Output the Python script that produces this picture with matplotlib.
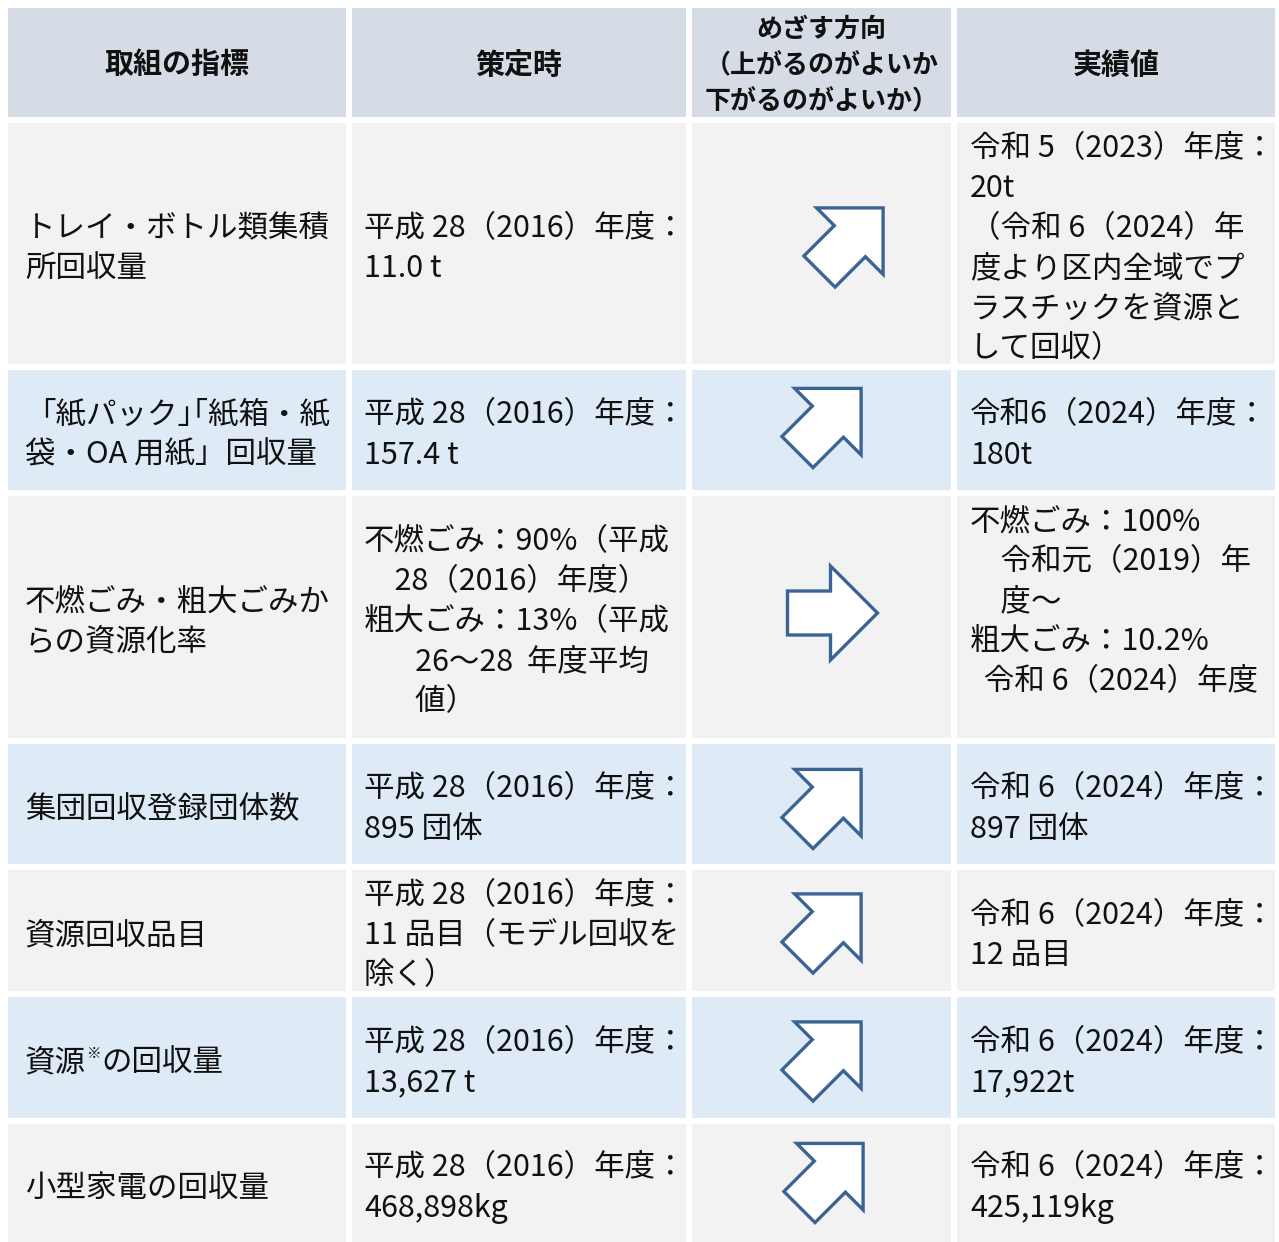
import matplotlib
matplotlib.use('Agg')
import matplotlib.pyplot as plt
import numpy as np
from matplotlib.patches import Rectangle, Polygon

plt.rcParams['font.family'] = ['Noto Sans CJK JP', 'DejaVu Sans']

# --- table content ---
headers = ["取組の指標", "策定時", "めざす方向\n（上がるのがよいか\n下がるのがよいか）", "実績値"]

indicators = [
    "トレイ・ボトル類集積\n所回収量",
    "「紙パック｣｢紙箱・紙\n袋・OA 用紙」回収量",
    "不燃ごみ・粗大ごみか\nらの資源化率",
    "集団回収登録団体数",
    "資源回収品目",
    "資源※の回収量",
    "小型家電の回収量",
]
baseline = [
    "平成 28（2016）年度：\n11.0 t",
    "平成 28（2016）年度：\n157.4 t",
    "不燃ごみ：90%（平成\n\u300028（2016）年度）\n粗大ごみ：13%（平成\n\u3000   26～28  年度平均\n\u3000   値）",
    "平成 28（2016）年度：\n895 団体",
    "平成 28（2016）年度：\n11 品目（モデル回収を\n除く）",
    "平成 28（2016）年度：\n13,627 t",
    "平成 28（2016）年度：\n468,898kg",
]
direction = ["up", "up", "flat", "up", "up", "up", "up"]
results = [
    "令和 5（2023）年度：\n20t\n（令和 6（2024）年\n度より区内全域でプ\nラスチックを資源と\nして回収）",
    "令和6（2024）年度：\n180t",
    "不燃ごみ：100%\n\u3000令和元（2019）年\n\u3000度～\n粗大ごみ：10.2%\n  令和 6（2024）年度\n",
    "令和 6（2024）年度：\n897 団体",
    "令和 6（2024）年度：\n12 品目",
    "令和 6（2024）年度：\n17,922t",
    "令和 6（2024）年度：\n425,119kg",
]

# --- layout (pixels) ---
W, H = 1279, 1242
col_l = [8, 352, 692, 957]
col_r = [346, 686, 951, 1275]
row_t = [8, 123, 370, 496, 744, 870, 997, 1124]
row_b = [117, 364, 490, 738, 864, 991, 1118, 1242]
arrow_off = [(22, 4), (0, -2), (11, -4), (0, 5), (0, 3), (0, 4), (2, 0)]

HEAD_BG = '#d6dce5'
GRAY = '#f2f2f2'
BLUE = '#deebf7'
ARROW_EDGE = '#3b6394'
FS = 30.5 * 0.72
LINE = 40

fig = plt.figure(figsize=(W / 100, H / 100), dpi=100)
ax = fig.add_axes([0, 0, 1, 1])
ax.set_xlim(0, W)
ax.set_ylim(H, 0)
ax.axis('off')


def cell(c, r, color):
    ax.add_patch(Rectangle((col_l[c], row_t[r]), col_r[c] - col_l[c], row_b[r] - row_t[r],
                           facecolor=color, edgecolor='none'))


def lines(x, yc, txt, ha='left', fs=FS, step=LINE, **kw):
    parts = txt.split('\n')
    y0 = yc - step * (len(parts) - 1) / 2
    for i, p in enumerate(parts):
        ax.text(x, y0 + i * step, p, ha=ha, va='center', fontsize=fs, color='#111111', **kw)


def arrow(cx, cy, ang):
    # right-pointing block arrow, turned ang degrees counter-clockwise on screen
    shaft, head, w, hw = 43, 47, 22, 47
    pts = np.array([[0, -w], [shaft, -w], [shaft, -hw], [shaft + head, 0],
                    [shaft, hw], [shaft, w], [0, w]], dtype=float)
    a = np.deg2rad(-ang)  # y axis runs downward
    rot = np.array([[np.cos(a), np.sin(a)], [-np.sin(a), np.cos(a)]])
    pts = pts @ rot
    mid = (pts.max(axis=0) + pts.min(axis=0)) / 2
    pts = pts - mid + [cx, cy]
    ax.add_patch(Polygon(pts, closed=True, facecolor='white', edgecolor=ARROW_EDGE,
                         linewidth=2.4, joinstyle='miter'))


# header row
for c, h in enumerate(headers):
    cell(c, 0, HEAD_BG)
    xc = (col_l[c] + col_r[c]) / 2
    yc = (row_t[0] + row_b[0]) / 2
    if c == 2:
        lines(xc, yc + 3, h, ha='center', fs=26 * 0.72, step=36, fontweight='bold')
    else:
        lines(xc, yc + 2, h, ha='center', fs=29 * 0.72, fontweight='bold')

# body rows
for i in range(len(indicators)):
    r = i + 1
    color = GRAY if i % 2 == 0 else BLUE
    for c in range(4):
        cell(c, r, color)
    yc = (row_t[r] + row_b[r]) / 2 + 5
    if '※' in indicators[i]:
        pre, post = indicators[i].split('※')
        t = ax.text(25, yc, pre, ha='left', va='center', fontsize=FS, color='#111111')
        fig.canvas.draw()
        bb = t.get_window_extent()
        t2 = ax.text(bb.x1 + 1, H - yc + 9, '※', ha='left', va='center', fontsize=FS * 0.48,
                     color='#111111', transform=None)
        bb2 = t2.get_window_extent()
        ax.text(bb2.x1, H - yc, post, ha='left', va='center', fontsize=FS,
                color='#111111', transform=None)
    else:
        lines(25, yc, indicators[i])
    lines(364, yc, baseline[i])
    lines(970, yc, results[i])
    dx, dy = arrow_off[i]
    ang = 45 if direction[i] == 'up' else 0
    arrow((col_l[2] + col_r[2]) / 2 + dx, (row_t[r] + row_b[r]) / 2 + dy, ang)

fig.savefig('out.png', dpi=100, facecolor='white')
